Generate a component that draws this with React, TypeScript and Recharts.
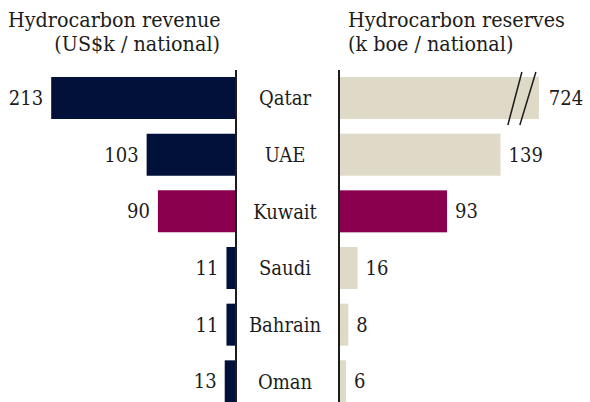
import { BarChart, Bar, XAxis, YAxis, Cell, LabelList } from 'recharts';

const countries = ['Qatar', 'UAE', 'Kuwait', 'Saudi', 'Bahrain', 'Oman'];
const revenue = [213, 103, 90, 11, 11, 13];
const reserves = [724, 139, 93, 16, 8, 6];
const highlight = 'Kuwait';
const reservesCap = 172; // reserves axis is broken above this value

const NAVY = '#02113a';
const PLUM = '#8a004f';
const SAND = '#dfd9c7';
const INK = '#1c1c1c';
const FONT = '"DejaVu Serif Condensed", "DejaVu Serif", serif';

const rows = countries.map((name, i) => ({
  name,
  revenue: revenue[i],
  reserves: reserves[i],
  reservesShown: Math.min(reserves[i], reservesCap),
}));

const textStyle = { fontFamily: FONT, fontStretch: 'condensed' as const };

function LeftValue(props: any) {
  const { x, y, width, height, value } = props;
  const left = Math.min(x, x + width);
  return (
    <text x={left - 8} y={y + height / 2} textAnchor="end" dominantBaseline="central" style={textStyle} fontSize={20} fill={INK}>
      {value}
    </text>
  );
}

function RightValue(props: any) {
  const { x, y, width, height, value } = props;
  const gap = value > reservesCap ? 10 : 8;
  return (
    <text x={x + width + gap} y={y + height / 2} textAnchor="start" dominantBaseline="central" style={textStyle} fontSize={20} fill={INK}>
      {value}
    </text>
  );
}

function ReserveBar(props: any) {
  const { x, y, width, height, payload } = props;
  const end = x + width;
  const fill = payload.name === highlight ? PLUM : SAND;
  return (
    <g>
      <rect x={x} y={y} width={width} height={height} fill={fill} />
      {payload.reserves > reservesCap && (
        <g stroke={INK} strokeWidth={1.5}>
          <line x1={end - 17} y1={y - 5} x2={end - 31} y2={y + height + 6} />
          <line x1={end - 3} y1={y - 5} x2={end - 19} y2={y + height + 6} />
        </g>
      )}
    </g>
  );
}

function CountryTick(props: any) {
  const { x, y, payload } = props;
  return (
    <text x={x - 54} y={y} textAnchor="middle" dominantBaseline="central" style={textStyle} fontSize={20} fill={INK}>
      {payload.value}
    </text>
  );
}

export default function App() {
  return (
    <div style={{ position: 'absolute', left: 0, top: 0, width: 590, height: 402, overflow: 'hidden', background: '#fff' }}>
      <svg width={590} height={70} style={{ position: 'absolute', left: 0, top: 0 }}>
        <g style={textStyle} fontSize={21.3} fill={INK}>
          <text x={8} y={27}>Hydrocarbon revenue</text>
          <text x={220} y={51} textAnchor="end">(US$k / national)</text>
          <text x={348} y={27}>Hydrocarbon reserves</text>
          <text x={348} y={51}>(k boe / national)</text>
        </g>
      </svg>

      <div style={{ position: 'absolute', left: 0, top: 0 }}>
        <BarChart width={237} height={410} data={rows} layout="vertical" margin={{ top: 70, right: 0, bottom: 0, left: 0 }}>
          <XAxis type="number" domain={[0, 272]} reversed hide />
          <YAxis type="category" dataKey="name" orientation="right" width={1} tick={false} tickLine={false} axisLine={{ stroke: INK, strokeWidth: 2 }} />
          <Bar dataKey="revenue" barSize={42} isAnimationActive={false}>
            {rows.map((r) => (
              <Cell key={r.name} fill={r.name === highlight ? PLUM : NAVY} />
            ))}
            <LabelList dataKey="revenue" content={LeftValue} />
          </Bar>
        </BarChart>
      </div>

      <div style={{ position: 'absolute', left: 236, top: 0 }}>
        <BarChart width={354} height={410} data={rows} layout="vertical" margin={{ top: 70, right: 0, bottom: 0, left: 0 }}>
          <XAxis type="number" domain={[0, 216]} hide />
          <YAxis type="category" dataKey="name" width={103} tickSize={0} tickMargin={0} tickLine={false} tick={CountryTick} axisLine={{ stroke: INK, strokeWidth: 2 }} />
          <Bar dataKey="reservesShown" barSize={42} shape={ReserveBar} isAnimationActive={false}>
            <LabelList dataKey="reserves" content={RightValue} />
          </Bar>
        </BarChart>
      </div>
    </div>
  );
}
